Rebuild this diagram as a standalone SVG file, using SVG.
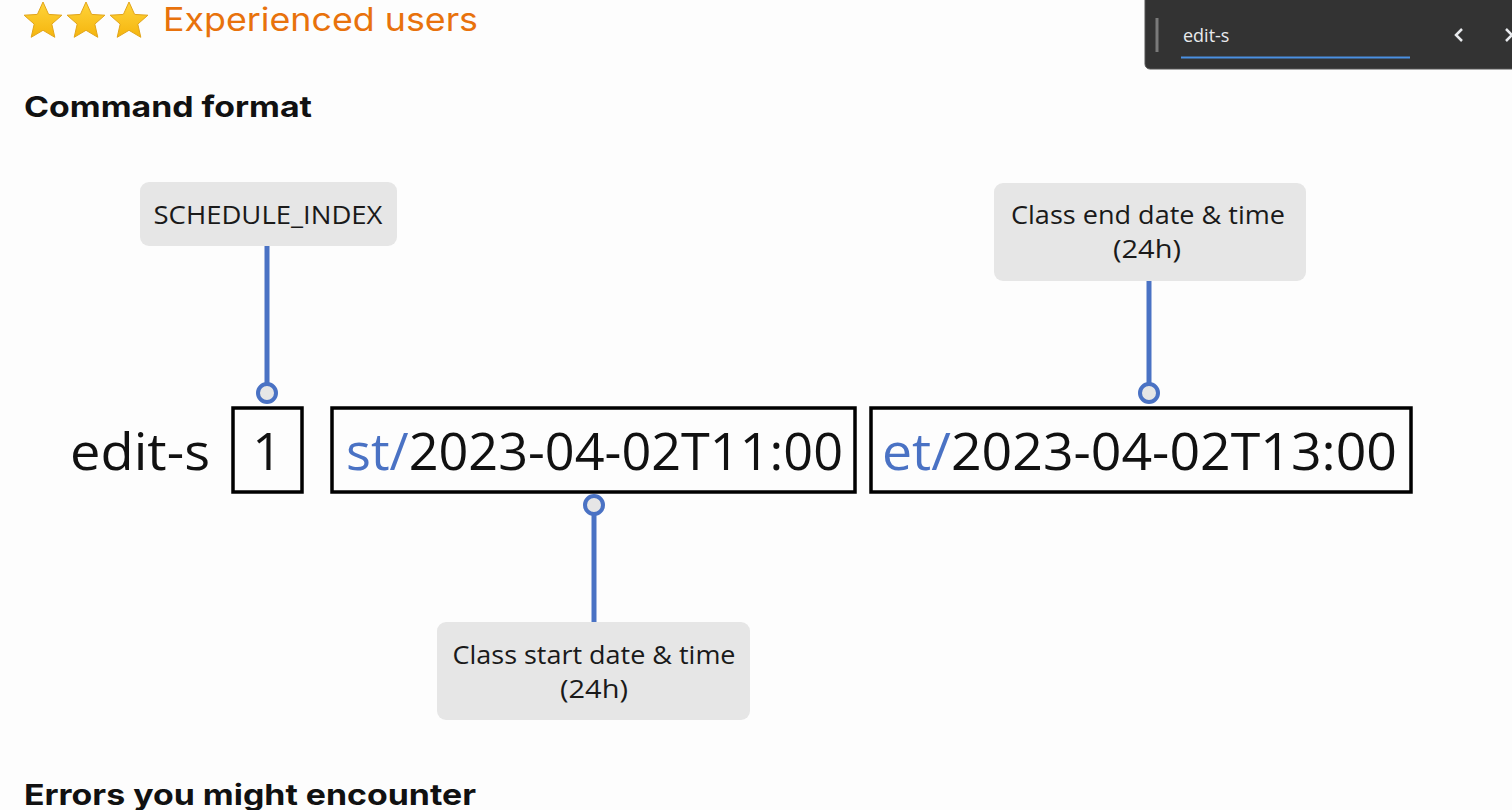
<svg xmlns="http://www.w3.org/2000/svg" width="1512" height="810" viewBox="0 0 1512 810">
<defs>
<style>
.head{font-family:Inter,"Liberation Sans",sans-serif;font-weight:700;font-size:29px;fill:#111}
.lbl{fill:#e6e6e6}
.lbltxt{font-family:"Open Sans","Liberation Sans",sans-serif;font-size:25px;fill:#1a1a1a;text-anchor:middle}
.big{font-family:"Open Sans","Liberation Sans",sans-serif;font-size:52px;fill:#111}
.blue{fill:#4a72c4}
.box{fill:none;stroke:#000;stroke-width:3.5}
.conn{stroke:#4a72c4;stroke-width:5;fill:none}
.dot{fill:#e6e6e6;stroke:#4a72c4;stroke-width:4}
</style>
<linearGradient id="gold" x1="0" y1="0" x2="0" y2="1">
<stop offset="0" stop-color="#ffd43a"/>
<stop offset="1" stop-color="#f5b50e"/>
</linearGradient>
<path id="star" d="M0,-19 L5.6,-6.6 L18.9,-5.8 L8.8,3.1 L11.8,16.3 L0,9.3 L-11.8,16.3 L-8.8,3.1 L-18.9,-5.8 L-5.6,-6.6 Z" fill="url(#gold)" stroke="#e2a51a" stroke-width="1"/>
</defs>
<rect width="1512" height="810" fill="#fdfdfd"/>

<g id="title">
<use href="#star" x="43" y="21"/>
<use href="#star" x="86" y="21"/>
<use href="#star" x="129" y="21"/>
<text x="163" y="31" font-family="Inter,'Liberation Sans',sans-serif" font-size="32" fill="#e8720c" textLength="315" lengthAdjust="spacingAndGlyphs">Experienced users</text>
</g>

<g id="searchbar">
<rect x="1145" y="-10" width="380" height="79" rx="5" fill="#333333" stroke="#555" stroke-width="1"/>
<line x1="1157" y1="18" x2="1157" y2="52" stroke="#7a7a7a" stroke-width="3"/>
<text x="1183" y="42" font-family="'Open Sans','Liberation Sans',sans-serif" font-size="18" fill="#e8eaed">edit-s</text>
<line x1="1181" y1="57.5" x2="1410" y2="57.5" stroke="#4a90e2" stroke-width="2"/>
<path d="M1462,29 L1456,35 L1462,41" fill="none" stroke="#e8eaed" stroke-width="2.5"/>
<path d="M1506,29 L1512,35 L1506,41" fill="none" stroke="#e8eaed" stroke-width="2.5"/>
</g>

<text id="h-command" class="head" x="24" y="117" textLength="288" lengthAdjust="spacingAndGlyphs">Command format</text>

<g id="connectors">
<line class="conn" x1="267" y1="246" x2="267" y2="385"/>
<circle class="dot" cx="267" cy="393" r="9"/>
<line class="conn" x1="1149" y1="281" x2="1149" y2="385"/>
<circle class="dot" cx="1149" cy="393" r="9"/>
<line class="conn" x1="594" y1="513" x2="594" y2="622"/>
<circle class="dot" cx="594" cy="505" r="9"/>
</g>

<g id="node-schedule-index">
<rect class="lbl" x="140" y="182" width="257" height="64" rx="9"/>
<text class="lbltxt" x="268" y="224" textLength="229" lengthAdjust="spacingAndGlyphs">SCHEDULE_INDEX</text>
</g>

<g id="node-end-label">
<rect class="lbl" x="994" y="183" width="312" height="98" rx="9"/>
<text class="lbltxt" x="1148" y="224" textLength="274" lengthAdjust="spacingAndGlyphs">Class end date &amp; time</text>
<text class="lbltxt" x="1147" y="258" textLength="68" lengthAdjust="spacingAndGlyphs">(24h)</text>
</g>

<g id="node-start-label">
<rect class="lbl" x="437" y="622" width="313" height="98" rx="9"/>
<text class="lbltxt" x="594" y="664" textLength="283" lengthAdjust="spacingAndGlyphs">Class start date &amp; time</text>
<text class="lbltxt" x="594" y="698" textLength="68" lengthAdjust="spacingAndGlyphs">(24h)</text>
</g>

<g id="node-command">
<text class="big" x="70" y="470" textLength="140" lengthAdjust="spacingAndGlyphs">edit-s</text>
</g>

<g id="node-index">
<rect class="box" x="233" y="408" width="69" height="84"/>
<text class="big" x="267" y="470" text-anchor="middle">1</text>
</g>

<g id="node-start">
<rect class="box" x="332" y="408" width="523" height="84"/>
<text class="big" x="346" y="470" textLength="497" lengthAdjust="spacingAndGlyphs"><tspan class="blue">st/</tspan>2023-04-02T11:00</text>
</g>

<g id="node-end">
<rect class="box" x="871" y="408" width="540" height="84"/>
<text class="big" x="882" y="470" textLength="515" lengthAdjust="spacingAndGlyphs"><tspan class="blue">et/</tspan>2023-04-02T13:00</text>
</g>

<text id="h-errors" class="head" x="24" y="805" textLength="452" lengthAdjust="spacingAndGlyphs">Errors you might encounter</text>
</svg>
